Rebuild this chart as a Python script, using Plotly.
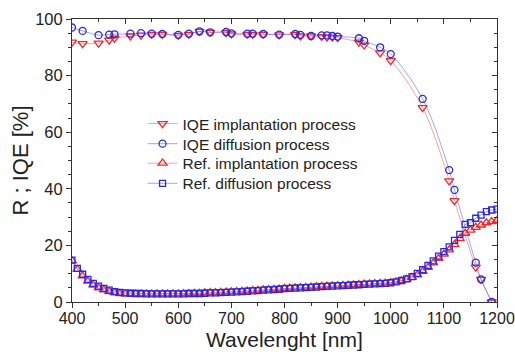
import plotly.graph_objects as go

# IQE data
iqe_wl = [400, 420, 450, 470, 480, 510, 530, 550, 570, 600, 620, 640, 660, 690, 700,
          730, 740, 760, 790, 820, 830, 850, 870, 880, 890, 900, 940, 950, 980, 1000,
          1060, 1110, 1120, 1160, 1170, 1190]
iqe_diff = [97.0, 95.8, 94.3, 94.5, 94.6, 94.8, 95.0, 94.8, 94.7, 94.4, 94.8, 95.6, 95.3, 95.4, 94.9,
            94.8, 94.8, 94.7, 94.5, 94.7, 94.4, 94.0, 94.2, 94.2, 94.0, 93.8, 93.2, 92.3, 90.0, 87.6,
            71.8, 46.6, 39.6, 13.9, 8.0, 0.0]
iqe_impl = [91.8, 91.3, 91.5, 92.5, 93.2, 94.0, 94.3, 94.6, 94.6, 94.2, 94.6, 95.6, 95.3, 95.2, 94.7,
            94.6, 94.6, 94.6, 94.4, 94.5, 94.0, 94.0, 93.8, 93.6, 93.6, 93.4, 91.8, 90.8, 88.0, 85.3,
            68.7, 42.8, 35.8, 12.3, 8.0, 0.0]

# Reflectance data (400..1200 step 10)
ref_wl = list(range(400, 1201, 10))
ref_diff = [14.8, 11.9, 9.8, 8.0, 6.6, 5.6, 4.8, 4.2, 3.7, 3.4,
            3.2, 3.1, 3.0, 3.0, 2.9, 2.9, 2.9, 2.9, 2.9, 2.9,
            2.9, 2.9, 3.0, 3.0, 3.0, 3.1, 3.2, 3.2, 3.3, 3.4,
            3.5, 3.6, 3.7, 3.8, 3.9, 4.0, 4.2, 4.3, 4.4, 4.5,
            4.7, 4.8, 4.9, 5.0, 5.1, 5.2, 5.3, 5.4, 5.5, 5.6,
            5.7, 5.8, 5.9, 6.0, 6.1, 6.2, 6.3, 6.4, 6.5, 6.6,
            6.8, 7.1, 7.6, 8.2, 9.0, 10.1, 11.4, 12.9, 14.5, 16.2,
            17.8, 19.5, 21.8, 23.9, 27.4, 28.0, 29.6, 30.7, 31.9, 32.5,
            32.8]
ref_impl = [14.5, 11.5, 9.2, 7.4, 6.0, 5.0, 4.3, 3.7, 3.3, 3.0,
            2.9, 2.9, 2.9, 2.9, 2.9, 2.9, 2.9, 2.9, 2.9, 2.9,
            2.9, 3.0, 3.0, 3.1, 3.1, 3.2, 3.3, 3.3, 3.4, 3.5,
            3.6, 3.7, 3.8, 3.9, 4.0, 4.1, 4.3, 4.4, 4.5, 4.6,
            4.8, 4.9, 5.0, 5.1, 5.2, 5.3, 5.4, 5.5, 5.6, 5.7,
            5.8, 5.9, 6.0, 6.1, 6.2, 6.3, 6.4, 6.5, 6.6, 6.7,
            6.9, 7.1, 7.5, 8.0, 8.7, 9.6, 10.8, 12.2, 13.8, 15.4,
            16.9, 18.4, 20.3, 22.4, 24.3, 25.4, 26.4, 27.2, 28.0, 28.4,
            28.8]

xticks = [400, 500, 600, 700, 800, 900, 1000, 1100, 1200]
yticks = [0, 20, 40, 60, 80, 100]

RED = "#f02828"
BLUE = "#2828e6"
RED_L = "rgba(235,90,90,0.55)"
BLUE_L = "rgba(90,90,235,0.55)"

fig = go.Figure()
fig.add_trace(go.Scatter(x=iqe_wl, y=iqe_impl, name="IQE implantation process", legend="legend",
                         mode="lines+markers", line=dict(color=RED_L, width=1, shape="spline"),
                         marker=dict(symbol="triangle-down-open", size=8, color=RED, line=dict(width=1.3))))
fig.add_trace(go.Scatter(x=iqe_wl, y=iqe_diff, name="IQE diffusion process", legend="legend2",
                         mode="lines+markers", line=dict(color=BLUE_L, width=1, shape="spline"),
                         marker=dict(symbol="circle-open", size=7, color=BLUE, line=dict(width=1.3))))
fig.add_trace(go.Scatter(x=ref_wl, y=ref_impl, name="Ref. implantation process", legend="legend3",
                         mode="lines+markers", line=dict(color=RED_L, width=1),
                         marker=dict(symbol="triangle-up-open", size=8, color=RED, line=dict(width=1.3))))
fig.add_trace(go.Scatter(x=ref_wl, y=ref_diff, name="Ref. diffusion process", legend="legend4",
                         mode="lines+markers", line=dict(color=BLUE_L, width=1),
                         marker=dict(symbol="square-open", size=6, color=BLUE, line=dict(width=1.3))))
# invisible trace for mirrored axes
fig.add_trace(go.Scatter(x=[400], y=[0], xaxis="x2", yaxis="y2", showlegend=False,
                         mode="markers", marker=dict(opacity=0), hoverinfo="skip"))

font = "Liberation Sans, Arial, sans-serif"
AX = "#333"


def leg(y):
    return dict(x=0.166, y=y, xanchor="left", yanchor="middle",
                bgcolor="rgba(0,0,0,0)", font=dict(size=15.5, color="#222"))


fig.update_layout(
    width=515, height=352,
    margin=dict(l=72, r=18, t=19, b=50, autoexpand=False),
    paper_bgcolor="white", plot_bgcolor="white",
    font=dict(family=font, color="#222", size=16),
    showlegend=True,
    legend=leg(0.629), legend2=leg(0.558), legend3=leg(0.489), legend4=leg(0.418),
    xaxis=dict(range=[400, 1200], tickvals=xticks, automargin=False, ticklabeloverflow="allow",
               ticks="outside", ticklen=5, tickwidth=1, tickcolor=AX, ticklabelstandoff=-3,
               showline=True, linecolor=AX, linewidth=1, showgrid=False, zeroline=False,
               minor=dict(dtick=50, tick0=400, ticks="outside", ticklen=3, tickcolor=AX),
               tickfont=dict(size=16)),
    yaxis=dict(range=[0, 100], tickvals=yticks, automargin=False, ticklabeloverflow="allow",
               ticks="outside", ticklen=5, tickwidth=1, tickcolor=AX,
               showline=True, linecolor=AX, linewidth=1, showgrid=False, zeroline=False,
               minor=dict(dtick=5, tick0=0, ticks="outside", ticklen=3, tickcolor=AX),
               title=dict(text="R ; IQE [%]", font=dict(size=22), standoff=0),
               tickfont=dict(size=16.5)),
    xaxis2=dict(range=[400, 1200], overlaying="x", side="top", anchor="y2", automargin=False,
                tickvals=xticks,
                ticks="inside", ticklen=5, tickcolor=AX, showticklabels=False,
                showline=True, linecolor=AX, linewidth=1, showgrid=False, zeroline=False,
                minor=dict(dtick=50, tick0=400, ticks="inside", ticklen=3, tickcolor=AX)),
    yaxis2=dict(range=[0, 100], overlaying="y", side="right", anchor="x2", automargin=False,
                tickvals=yticks,
                ticks="inside", ticklen=5, tickcolor=AX, showticklabels=False,
                showline=True, linecolor=AX, linewidth=1, showgrid=False, zeroline=False,
                minor=dict(dtick=5, tick0=0, ticks="inside", ticklen=3, tickcolor=AX)),
    annotations=[dict(text="Wavelenght [nm]", xref="paper", yref="paper", x=0.5, y=-0.18,
                      xanchor="center", yanchor="bottom", showarrow=False,
                      font=dict(size=21, color="#222"))],
)

fig.write_html("out.html", config={"displayModeBar": False},
               post_script="document.body.style.margin='0';document.body.style.overflow='hidden';")
